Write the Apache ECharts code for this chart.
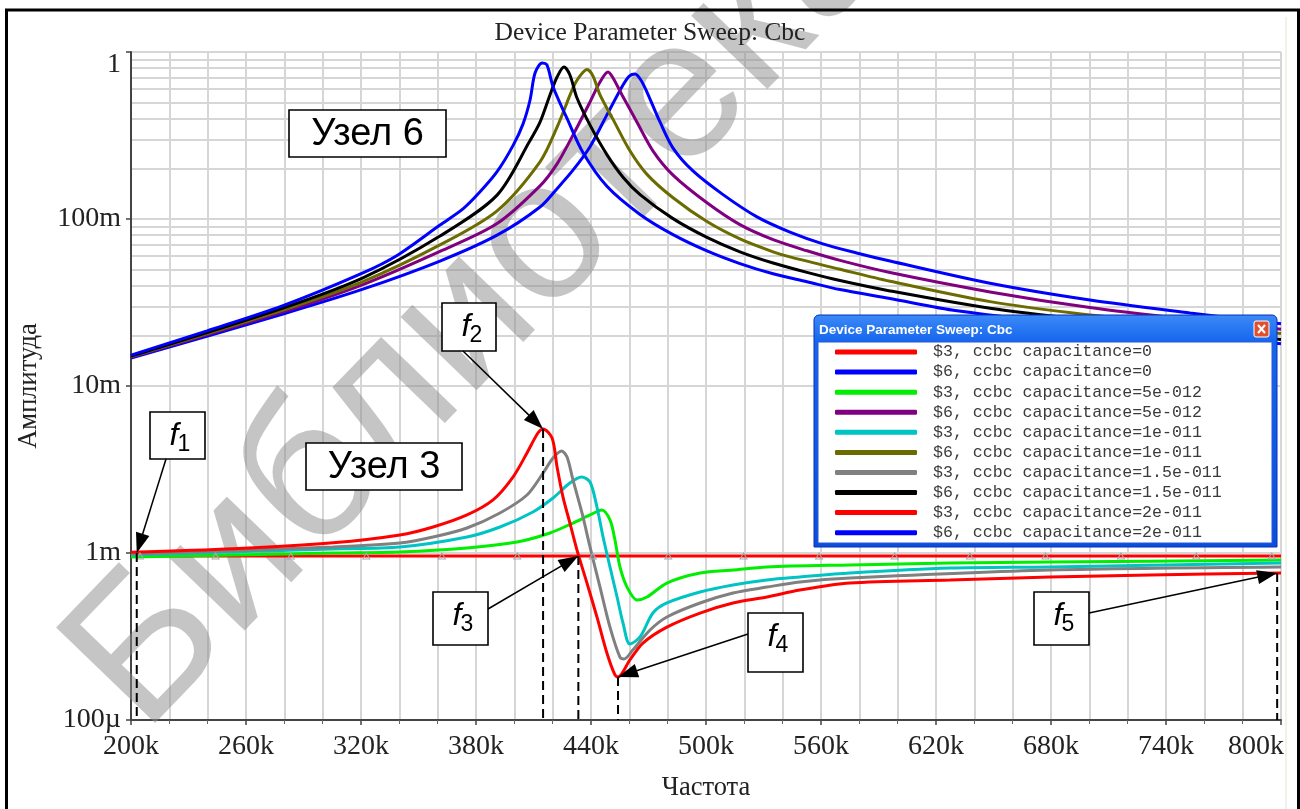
<!DOCTYPE html>
<html>
<head>
<meta charset="utf-8">
<script src="https://cdn.jsdelivr.net/npm/echarts@6/dist/echarts.min.js"></script>
<style>
  html, body { margin: 0; padding: 0; background: #ffffff; }
  #chart { width: 1300px; height: 809px; }
</style>
</head>
<body>
<div id="chart"></div>
<script>
// ---- axis tick labels ----
const xTickLabels = ['200k', '260k', '320k', '380k', '440k', '500k', '560k', '620k', '680k', '740k', '800k'];
const yTickLabels = ['100µ', '1m', '10m', '100m', '1'];

// ---- series names (legend order) ----
const seriesNames = [
  '$3, ccbc capacitance=0',
  '$6, ccbc capacitance=0',
  '$3, ccbc capacitance=5e-012',
  '$6, ccbc capacitance=5e-012',
  '$3, ccbc capacitance=1e-011',
  '$6, ccbc capacitance=1e-011',
  '$3, ccbc capacitance=1.5e-011',
  '$6, ccbc capacitance=1.5e-011',
  '$3, ccbc capacitance=2e-011',
  '$6, ccbc capacitance=2e-011'
];
const seriesColors = ['#ff0000', '#0000ff', '#00ee00', '#800080', '#00c4c4', '#6b6b00', '#808080', '#000000', '#ff0000', '#0000ff'];

// ---- frequency (kHz) / amplitude (V) samples ----
// node 3, Cbc = 0 : flat response, with sweep markers
const n3_c0_f = [200, 204.7, 244.1, 283.4, 322.8, 362.2, 401.5, 440.9, 480.3, 519.6, 559.0, 598.4, 637.7, 677.1, 716.5, 755.8, 795.2, 800];
const n3_c0_v = [0.00096, 0.00096, 0.00096, 0.00096, 0.00096, 0.00096, 0.00096, 0.00096, 0.00096, 0.00096, 0.00096, 0.00096, 0.00096, 0.00096, 0.00096, 0.00096, 0.00096, 0.00096];

// node 6, Cbc = 0
const n6_c0_f = [200, 279.3, 321, 361.2, 391, 413.4, 422.3, 430.6, 439.5, 448.3, 456.7, 460, 463, 466, 469.2, 476, 482.8, 493.2, 508.9, 526.6, 543.8, 561, 578.6, 596, 648.2, 700.3, 752.5, 800];
const n6_c0_v = [0.0147, 0.0270, 0.0380, 0.0560, 0.0800, 0.118, 0.152, 0.196, 0.271, 0.420, 0.634, 0.718, 0.738, 0.680, 0.576, 0.381, 0.266, 0.194, 0.140, 0.103, 0.0835, 0.0710, 0.0626, 0.0560, 0.0412, 0.0327, 0.0274, 0.0236];

// node 3, Cbc = 5 pF
const n3_c5_f = [200, 305.4, 340.3, 375.3, 401.4, 418.6, 430.6, 439.5, 445.6, 449.9, 452.5, 455.1, 458.8, 464, 469.2, 479.6, 496.9, 514.1, 531.8, 575.1, 627.3, 679.5, 800];
const n3_c5_v = [0.000946, 0.00100, 0.001014, 0.001072, 0.001164, 0.001318, 0.001512, 0.001689, 0.00181, 0.001577, 0.001197, 0.000825, 0.000625, 0.000523, 0.000545, 0.000661, 0.000759, 0.000791, 0.000825, 0.000848, 0.000871, 0.000883, 0.000907];

// node 6, Cbc = 5 pF
const n6_c5_f = [200, 279.3, 321, 361.2, 391, 413.4, 422.3, 430.6, 439.5, 444.7, 448.9, 451.5, 456.2, 464, 472.3, 482.8, 500.5, 517.7, 535, 552.7, 569.9, 596, 648.2, 700.3, 752.5, 800];
const n6_c5_v = [0.0149, 0.0278, 0.0405, 0.0640, 0.0940, 0.158, 0.214, 0.318, 0.502, 0.661, 0.759, 0.699, 0.553, 0.380, 0.256, 0.183, 0.125, 0.0925, 0.0752, 0.0645, 0.0565, 0.0478, 0.0366, 0.0295, 0.0250, 0.0219];

// node 3, Cbc = 10 pF
const n3_c10_f = [200, 305.4, 340.3, 375.3, 392.5, 409.7, 420.2, 429, 435.1, 439.5, 443.1, 446.3, 449.9, 453.6, 456.7, 460.3, 465.6, 472.3, 479.6, 496.9, 514.1, 531.8, 549, 575.1, 627.3, 679.5, 800];
const n3_c10_v = [0.000973, 0.001057, 0.001086, 0.001247, 0.001431, 0.001761, 0.002135, 0.002625, 0.002851, 0.002662, 0.001885, 0.001247, 0.000825, 0.000545, 0.000381, 0.000285, 0.000314, 0.000437, 0.000502, 0.000584, 0.000643, 0.000689, 0.000718, 0.000759, 0.000813, 0.000825, 0.000871];

// node 6, Cbc = 10 pF
const n6_c10_f = [200, 279.3, 321, 361.2, 391, 413.4, 422.3, 430.6, 433.5, 437.9, 441, 444.7, 451.5, 460.3, 469.2, 482.8, 500.5, 517.7, 535, 543.8, 569.9, 596, 648.2, 691.5, 752.5, 800];
const n6_c10_v = [0.0150, 0.0285, 0.0422, 0.0700, 0.1120, 0.220, 0.355, 0.609, 0.700, 0.785, 0.72, 0.553, 0.395, 0.256, 0.185, 0.134, 0.0965, 0.0760, 0.0636, 0.0593, 0.0500, 0.0424, 0.0320, 0.0274, 0.0232, 0.0206];

// node 3, Cbc = 15 pF
const n3_c15_f = [200, 305.4, 340.3, 357.6, 375.3, 392.5, 406.6, 415, 420.2, 424.7, 427.5, 430.6, 435.3, 439.5, 444.7, 449.9, 455.1, 457.2, 461.9, 470.8, 479.6, 496.9, 514.1, 531.8, 549, 575.1, 679.5, 800];
const n3_c15_v = [0.000986, 0.001086, 0.001148, 0.001247, 0.001412, 0.001737, 0.002225, 0.003013, 0.003706, 0.00408, 0.003757, 0.002737, 0.001737, 0.001086, 0.000625, 0.00036, 0.000238, 0.000232, 0.000263, 0.000346, 0.000414, 0.000502, 0.000576, 0.000625, 0.000671, 0.000708, 0.000791, 0.000825];

// node 6, Cbc = 15 pF
const n6_c15_f = [200, 279.3, 321, 361.2, 391, 408.2, 413.4, 418.6, 422.3, 425.9, 429, 432.7, 439.5, 448.3, 456.7, 465.6, 482.8, 500.5, 517.7, 535, 552.7, 569.9, 596, 648.2, 700, 752.5, 800];
const n6_c15_v = [0.0151, 0.0293, 0.0444, 0.0790, 0.1390, 0.295, 0.380, 0.553, 0.708, 0.813, 0.728, 0.530, 0.365, 0.243, 0.178, 0.140, 0.1005, 0.0776, 0.0636, 0.0545, 0.0479, 0.0428, 0.0371, 0.0292, 0.0248, 0.0216, 0.0190];

// node 3, Cbc = 20 pF
const n3_c20_f = [200, 253.2, 305.4, 340.3, 357.6, 375.3, 388.9, 399.3, 406.6, 412.3, 415, 419.7, 422.3, 425.4, 429, 432.7, 437.9, 443.1, 448.3, 452.5, 454.1, 460.3, 467.1, 479.6, 496.9, 514.1, 531.8, 549, 575.1, 627.3, 679.5, 731.7, 800];
const n3_c20_v = [0.00101, 0.00106, 0.00115, 0.00128, 0.00143, 0.00169, 0.00208, 0.00285, 0.00397, 0.00523, 0.00553, 0.00488, 0.00327, 0.00216, 0.00151, 0.00104, 0.00066, 0.000414, 0.000252, 0.000186, 0.000181, 0.000229, 0.000289, 0.000360, 0.000437, 0.000502, 0.000545, 0.000600, 0.000661, 0.000689, 0.000718, 0.000738, 0.000759];

// node 6, Cbc = 20 pF
const n6_c20_f = [200, 239.7, 279.3, 321, 338.8, 361.2, 373.2, 382, 391, 399.3, 404.5, 408.2, 410.8, 414.5, 417, 420.2, 427.5, 435.8, 448.3, 465.6, 482.8, 500.5, 517.7, 535, 552.7, 569.9, 596, 631, 700, 800];
const n6_c20_v = [0.0153, 0.0214, 0.0303, 0.0476, 0.0605, 0.0920, 0.115, 0.145, 0.192, 0.275, 0.370, 0.516, 0.748, 0.859, 0.836, 0.62, 0.400, 0.250, 0.157, 0.1065, 0.0806, 0.0644, 0.0541, 0.0470, 0.0421, 0.0378, 0.0334, 0.0282, 0.0228, 0.0179];

// marked frequencies f1..f5 on node 3 (kHz, V)
const markFreq = [203, 415, 433.4, 454.1, 798];
const markVal = [0.001, 0.00553, 0.00096, 0.000181, 0.00076];

// ---- helpers ----
const pairs = (f, v) => f.map((x, i) => [x, v[i]]);
const curves = [
  [n3_c0_f, n3_c0_v], [n6_c0_f, n6_c0_v],
  [n3_c5_f, n3_c5_v], [n6_c5_f, n6_c5_v],
  [n3_c10_f, n3_c10_v], [n6_c10_f, n6_c10_v],
  [n3_c15_f, n3_c15_v], [n6_c15_f, n6_c15_v],
  [n3_c20_f, n3_c20_v], [n6_c20_f, n6_c20_v]
];

// minor log grid values 2..9 per decade
const minorGrid = [];
for (let e = -4; e < 0; e++) for (let m = 2; m <= 9; m++) minorGrid.push(m * Math.pow(10, e));

const GRID_COLOR = '#d6d6d6';
const SERIF = '"Liberation Serif", "DejaVu Serif", serif';
const SANS = '"Liberation Sans", Arial, sans-serif';

const series = curves.map((c, i) => {
  const s = {
    name: seriesNames[i],
    type: 'line',
    data: pairs(c[0], c[1]),
    symbol: 'none',
    showSymbol: false,
    smooth: 0.3,
    lineStyle: { color: seriesColors[i], width: 3 },
    itemStyle: { color: seriesColors[i] },
    z: 3,
    silent: true
  };
  if (i === 0) {
    // flat response with small sweep markers
    s.smooth = false;
    s.symbol = 'triangle';
    s.showSymbol = true;
    s.symbolSize = [7, 6];
    s.data = pairs(c[0], c[1]).map((p, k) => {
      const edge = k === 0 || k === c[0].length - 1;
      return edge ? { value: p, symbol: 'none' } :
        { value: p, itemStyle: { color: 'rgba(0,0,0,0)', borderColor: '#a8a8a8', borderWidth: 1 } };
    });
  }
  return s;
});

// log minor grid lines, kept underneath the curves
series.unshift({
  name: 'grid-lines',
  type: 'line',
  data: [],
  z: 0,
  silent: true,
  markLine: {
    z: 0,
    silent: true,
    symbol: ['none', 'none'],
    label: { show: false },
    emphasis: { disabled: true },
    lineStyle: { color: GRID_COLOR, width: 2, type: 'solid' },
    data: minorGrid.map(v => ({ yAxis: v }))
  }
});

const option = {
  animation: false,
  backgroundColor: '#ffffff',
  title: {
    text: 'Device Parameter Sweep: Cbc',
    left: 'center',
    top: 15,
    textStyle: { fontFamily: SERIF, fontSize: 25.5, fontWeight: 'normal', color: '#222' }
  },
  grid: { left: 131, top: 52, width: 1150, height: 668, containLabel: false },
  xAxis: {
    type: 'value',
    min: 200,
    max: 800,
    interval: 60,
    name: 'Частота',
    nameLocation: 'middle',
    nameGap: 55,
    nameTextStyle: { fontFamily: SERIF, fontSize: 26.5, color: '#222' },
    axisLine: { show: true, onZero: false, lineStyle: { color: '#444', width: 2 } },
    axisTick: { show: true, length: 5, lineStyle: { color: '#444', width: 1.5 } },
    minorTick: { show: true, splitNumber: 3, length: 4, lineStyle: { color: '#666', width: 1 } },
    splitLine: { show: true, lineStyle: { color: GRID_COLOR, width: 2 } },
    minorSplitLine: { show: true, lineStyle: { color: GRID_COLOR, width: 2 } },
    axisLabel: {
      margin: 13,
      fontFamily: SERIF, fontSize: 28, color: '#222',
      formatter: v => {
        const i = Math.round((v - 200) / 60);
        return i === xTickLabels.length - 1 ? '{end|' + xTickLabels[i] + '}' : xTickLabels[i];
      },
      rich: { end: { fontFamily: SERIF, fontSize: 28, color: '#222', padding: [0, 50, 0, 0] } }
    }
  },
  yAxis: {
    type: 'log',
    logBase: 10,
    min: 0.0001,
    max: 1,
    name: 'Амплитуда',
    nameLocation: 'middle',
    nameGap: 88,
    nameRotate: 90,
    nameTextStyle: { fontFamily: SERIF, fontSize: 26.5, color: '#222' },
    axisLine: { show: true, onZero: false, lineStyle: { color: '#444', width: 2 } },
    axisTick: { show: true, length: 5, lineStyle: { color: '#444', width: 1.5 } },
    splitLine: { show: true, lineStyle: { color: GRID_COLOR, width: 2 } },
    axisLabel: {
      margin: 10,
      fontFamily: SERIF, fontSize: 28, color: '#222',
      formatter: v => {
        const e = Math.round(Math.log10(v));
        const t = yTickLabels[e + 4];
        return e === 0 ? '{top|' + t + '}' : t;
      },
      rich: { top: { fontFamily: SERIF, fontSize: 28, color: '#222', padding: [26, 0, 0, 0] } }
    }
  },
  legend: {
    data: seriesNames,
    orient: 'vertical',
    left: 835,
    top: 342,
    padding: 0,
    itemGap: 0,
    itemWidth: 82,
    itemHeight: 5,
    icon: 'roundRect',
    selectedMode: false,
    z: 12,
    textStyle: { fontFamily: '"Liberation Mono", "DejaVu Sans Mono", monospace', fontSize: 16.6, color: '#3a3a3a', lineHeight: 20.07, padding: [0, 0, 0, 11] }
  },
  series: series
};

const chart = echarts.init(document.getElementById('chart'), null, { renderer: 'canvas' });
chart.setOption(option);

// ---- annotations, placed from data coordinates ----
const toPx = (f, v) => chart.convertToPixel({ gridIndex: 0 }, [f, v]);
const yBottom = toPx(200, 0.0001)[1];

function arrow(s, t) {
  const dx = t[0] - s[0], dy = t[1] - s[1];
  const len = Math.hypot(dx, dy), ux = dx / len, uy = dy / len;
  const L = 20, W = 7;
  const bx = t[0] - ux * L, by = t[1] - uy * L;
  return [
    { type: 'line', z: 20, silent: true, shape: { x1: s[0], y1: s[1], x2: bx + ux * 2, y2: by + uy * 2 }, style: { stroke: '#000', lineWidth: 1.5 } },
    { type: 'polygon', z: 20, silent: true, shape: { points: [t, [bx - uy * W, by + ux * W], [bx + uy * W, by - ux * W]] }, style: { fill: '#000' } }
  ];
}

function fBox(box, idx) {
  const [x, y, w, h] = box;
  return [
    { type: 'rect', z: 19, silent: true, shape: { x: x, y: y, width: w, height: h }, style: { fill: '#fff', stroke: '#000', lineWidth: 1.6 } },
    { type: 'text', z: 20, silent: true, x: x + 24, y: y + 24, style: { text: 'f', font: 'italic 32px ' + SANS, fill: '#000', align: 'center', verticalAlign: 'middle' } },
    { type: 'text', z: 20, silent: true, x: x + 34, y: y + 33, style: { text: String(idx + 1), font: '23px ' + SANS, fill: '#000', align: 'center', verticalAlign: 'middle' } }
  ];
}

function nodeBox(box, label) {
  const [x, y, w, h] = box;
  return [
    { type: 'rect', z: 19, silent: true, shape: { x: x, y: y, width: w, height: h }, style: { fill: '#fff', stroke: '#000', lineWidth: 1.6 } },
    { type: 'text', z: 20, silent: true, x: x + w / 2, y: y + h / 2 + 1, style: { text: label, font: '38px ' + SANS, fill: '#000', align: 'center', verticalAlign: 'middle' } }
  ];
}

// box layout [x, y, w, h] and the point where each arrow leaves its box
const fBoxes = [[150, 412, 55, 47], [442, 303, 54, 48], [433, 592, 55, 53], [748, 613, 55, 59], [1034, 592, 55, 53]];
const fArrowFrom = [[166, 459], [463, 351], [488, 609], [748, 634], [1089, 613]];

const g = [];

// outer frame
g.push({ type: 'rect', z: 30, silent: true, shape: { x: 6.5, y: 10, width: 1292, height: 820 }, style: { fill: 'none', stroke: '#000', lineWidth: 3 } });
g.push({ type: 'line', z: 1, silent: true, shape: { x1: 1286, y1: 17, x2: 1286, y2: 809 }, style: { stroke: '#efeee2', lineWidth: 1.5 } });

// watermark
g.push({
  type: 'text', z: 1, silent: true, x: 176, y: 766, rotation: 46 * Math.PI / 180,
  style: { text: 'Библиотека', font: '200px ' + SANS, fill: 'rgba(140,140,140,0.5)', align: 'left', verticalAlign: 'bottom' }
});

// node labels
g.push(...nodeBox([289, 110, 157, 47], 'Узел 6'));
g.push(...nodeBox([306, 443, 156, 47], 'Узел 3'));

// marked frequencies: dashed drop line, arrow and label box
markFreq.forEach((f, i) => {
  const p = toPx(f, markVal[i]);
  g.push({ type: 'line', z: 18, silent: true, shape: { x1: p[0], y1: p[1], x2: p[0], y2: yBottom }, style: { stroke: '#000', lineWidth: 2, lineDash: [9, 5] } });
  g.push(...arrow(fArrowFrom[i], p));
  g.push(...fBox(fBoxes[i], i));
});

// legend window frame
g.push({
  type: 'rect', z: 10, silent: true,
  shape: { x: 814, y: 315, width: 463, height: 232, r: [5, 5, 0, 0] },
  style: {
    fill: new echarts.graphic.LinearGradient(0, 0, 0, 1, [
      { offset: 0, color: '#3d8af7' }, { offset: 0.12, color: '#1565ee' }, { offset: 1, color: '#0a4fdc' }
    ]),
    stroke: '#0831b8', lineWidth: 1
  }
});
g.push({ type: 'rect', z: 11, silent: true, shape: { x: 818, y: 342, width: 454, height: 201 }, style: { fill: '#ffffff', stroke: '#2a58d8', lineWidth: 1 } });
g.push({ type: 'text', z: 11, silent: true, x: 819, y: 330, style: { text: 'Device Parameter Sweep: Cbc', font: 'bold 13.5px ' + SANS, fill: '#ffffff', align: 'left', verticalAlign: 'middle' } });
g.push({ type: 'rect', z: 11, silent: true, shape: { x: 1254, y: 321, width: 15, height: 16, r: 2 }, style: { fill: '#e0502e', stroke: '#ffffff', lineWidth: 1 } });
g.push({ type: 'line', z: 12, silent: true, shape: { x1: 1258, y1: 325, x2: 1265, y2: 333 }, style: { stroke: '#fff', lineWidth: 2 } });
g.push({ type: 'line', z: 12, silent: true, shape: { x1: 1265, y1: 325, x2: 1258, y2: 333 }, style: { stroke: '#fff', lineWidth: 2 } });

chart.setOption({ graphic: { elements: g } });
</script>
</body>
</html>
